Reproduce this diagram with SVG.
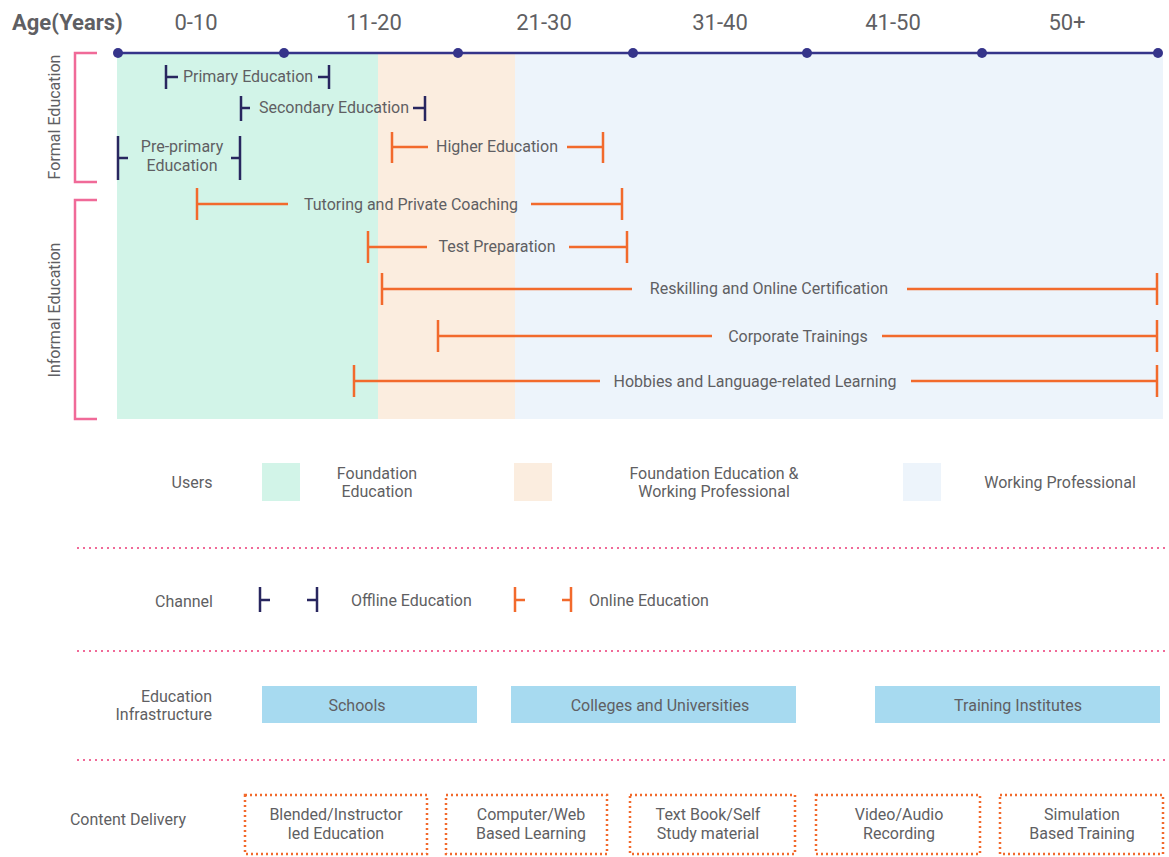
<svg xmlns="http://www.w3.org/2000/svg" width="1169" height="857" viewBox="0 0 1169 857">
<style>
text{font-family:Roboto,"Liberation Sans",sans-serif;fill:#5f5f63;font-size:16px}
.hdr{font-size:22px;text-anchor:middle}
.c{text-anchor:middle}
.r{text-anchor:end}
.nv{stroke:#28265f;stroke-width:2.5;fill:none}
.or{stroke:#f26a2c;stroke-width:2.5;fill:none}
.pk{stroke:#f06a98;stroke-width:2.5;fill:none}
.dot{stroke:#f06a98;stroke-width:2;stroke-dasharray:2 4;fill:none}
.box{stroke:#f26a2c;stroke-width:2.5;stroke-dasharray:2 3;fill:none}
.inf{fill:#a7daf0}
</style>
<rect x="0" y="0" width="1169" height="857" fill="#fff"/>
<g id="bands">
<rect x="117" y="53" width="261" height="366" fill="#d2f4e8"/>
<rect x="378" y="53" width="137" height="366" fill="#fbeddf"/>
<rect x="515" y="53" width="648" height="366" fill="#edf4fb"/>
</g>
<g id="header">
<text x="12" y="30" style="font-size:22px;font-weight:bold">Age(Years)</text>
<text class="hdr" x="196" y="30">0-10</text>
<text class="hdr" x="374" y="30">11-20</text>
<text class="hdr" x="544" y="30">21-30</text>
<text class="hdr" x="720" y="30">31-40</text>
<text class="hdr" x="893" y="30">41-50</text>
<text class="hdr" x="1067" y="30">50+</text>
</g>
<g id="timeline">
<line x1="118" y1="53" x2="1158" y2="53" stroke="#35348a" stroke-width="2.5"/>
<g fill="#35348a">
<circle cx="118" cy="53" r="5"/><circle cx="284" cy="53" r="5"/><circle cx="458" cy="53" r="5"/><circle cx="633" cy="53" r="5"/><circle cx="807" cy="53" r="5"/><circle cx="982" cy="53" r="5"/><circle cx="1158" cy="53" r="5"/>
</g>
</g>
<g id="brackets">
<path class="pk" d="M97 53H75V182H97"/>
<path class="pk" d="M97 200H75V419H97"/>
<text class="c" transform="translate(60 117) rotate(-90)">Formal Education</text>
<text class="c" transform="translate(60 310) rotate(-90)">Informal Education</text>
</g>
<g id="connectors">
<g id="primary"><path class="nv" d="M166 65V89M166 77H178M318 77H329M329 65V89"/><text class="c" x="248" y="82">Primary Education</text></g>
<g id="secondary"><path class="nv" d="M241 96V121M241 108H250M413 108H425M425 96V121"/><text class="c" x="334" y="113">Secondary Education</text></g>
<g id="preprimary"><path class="nv" d="M118 136V180M118 158H128M231 158H240M240 136V180"/><text class="c" x="182" y="152">Pre-primary</text><text class="c" x="182" y="171">Education</text></g>
<g id="higher"><path class="or" d="M392 132V163M392 147H428M567 147H603M603 132V163"/><text class="c" x="497" y="152">Higher Education</text></g>
<g id="tutoring"><path class="or" d="M197 188V220M197 204H288M531 204H622M622 188V220"/><text class="c" x="411" y="210">Tutoring and Private Coaching</text></g>
<g id="testprep"><path class="or" d="M368 231V263M368 247H427M569 247H627M627 231V263"/><text class="c" x="497" y="252">Test Preparation</text></g>
<g id="reskill"><path class="or" d="M382 273V305M382 289H632M907 289H1157M1157 273V305"/><text class="c" x="769" y="294">Reskilling and Online Certification</text></g>
<g id="corporate"><path class="or" d="M438 320V352M438 336H712M882 336H1157M1157 320V352"/><text class="c" x="798" y="342">Corporate Trainings</text></g>
<g id="hobbies"><path class="or" d="M354 365V397M354 381H600M911 381H1157M1157 365V397"/><text class="c" x="755" y="387">Hobbies and Language-related Learning</text></g>
</g>
<g id="users">
<text class="c" x="192" y="488">Users</text>
<rect x="262" y="463" width="38" height="38" fill="#d2f4e8"/>
<text class="c" x="377" y="479">Foundation</text><text class="c" x="377" y="497">Education</text>
<rect x="514" y="463" width="38" height="38" fill="#fbeddf"/>
<text class="c" x="714" y="479">Foundation Education &amp;</text><text class="c" x="714" y="497">Working Professional</text>
<rect x="903" y="463" width="38" height="38" fill="#edf4fb"/>
<text class="c" x="1060" y="488">Working Professional</text>
</g>
<g id="separators">
<line class="dot" x1="77" y1="548" x2="1165" y2="548"/>
<line class="dot" x1="77" y1="651" x2="1165" y2="651"/>
<line class="dot" x1="77" y1="760" x2="1165" y2="760"/>
</g>
<g id="channel">
<text class="c" x="184" y="607">Channel</text>
<path class="nv" d="M260 587V612M260 600H270M307 600H317M317 587V612"/>
<text x="351" y="606">Offline Education</text>
<path class="or" d="M515 587V612M515 600H525M562 600H571M571 587V612"/>
<text x="589" y="606">Online Education</text>
</g>
<g id="infrastructure">
<text class="r" x="212" y="702">Education</text><text class="r" x="212" y="720">Infrastructure</text>
<rect class="inf" x="262" y="686" width="215" height="37"/><text class="c" x="357" y="711">Schools</text>
<rect class="inf" x="511" y="686" width="285" height="37"/><text class="c" x="660" y="711">Colleges and Universities</text>
<rect class="inf" x="875" y="686" width="285" height="37"/><text class="c" x="1018" y="711">Training Institutes</text>
</g>
<g id="content">
<text class="c" x="128" y="825">Content Delivery</text>
<rect class="box" x="245" y="795" width="182" height="59"/><text class="c" x="336" y="820">Blended/Instructor</text><text class="c" x="336" y="839">led Education</text>
<rect class="box" x="446" y="795" width="161" height="59"/><text class="c" x="531" y="820">Computer/Web</text><text class="c" x="531" y="839">Based Learning</text>
<rect class="box" x="630" y="795" width="165" height="59"/><text class="c" x="708" y="820">Text Book/Self</text><text class="c" x="708" y="839">Study material</text>
<rect class="box" x="816" y="795" width="164" height="59"/><text class="c" x="899" y="820">Video/Audio</text><text class="c" x="899" y="839">Recording</text>
<rect class="box" x="1000" y="795" width="163" height="59"/><text class="c" x="1082" y="820">Simulation</text><text class="c" x="1082" y="839">Based Training</text>
</g>
</svg>
